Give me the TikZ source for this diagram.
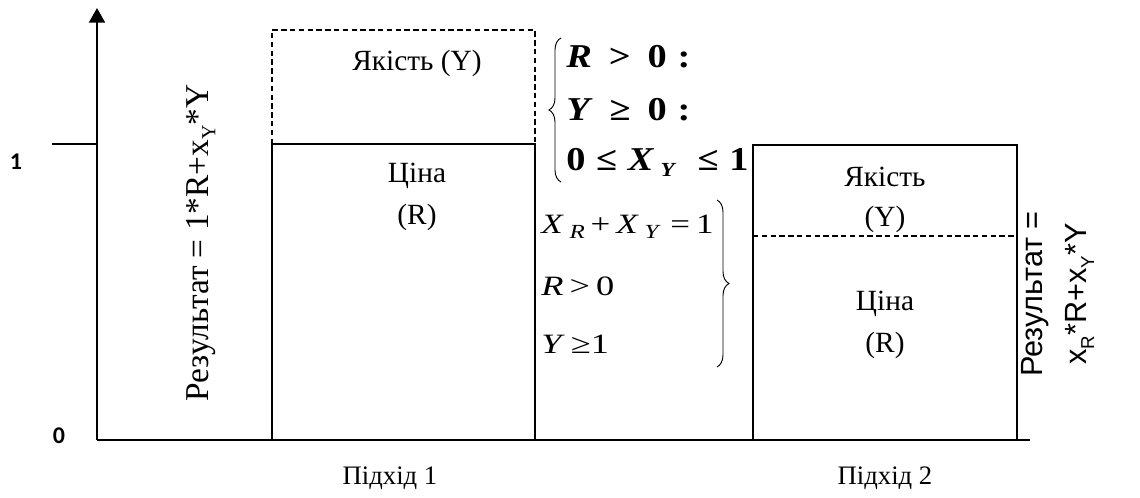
\documentclass[tikz,border=0pt]{standalone}
\usepackage{fontspec}
\setmainfont{Liberation Serif}
\setsansfont{Liberation Sans}
\newfontfamily\digitfont{Carlito}
\usetikzlibrary{arrows.meta,decorations.pathreplacing}

% lowered index of a given size
\newcommand{\lowidx}[2][13]{\raisebox{-0.45ex}{\fontsize{#1}{#1}\selectfont #2}}
% text stretched sideways
\newcommand{\widetext}[2]{\scalebox{#1}[1]{#2}}

\begin{document}
\begin{tikzpicture}[x=0.75pt, y=-0.75pt,
  boxline/.style={line width=1pt},
  dashline/.style={line width=1pt, dash pattern=on 4pt off 2.6pt},
  boxtext/.style={font=\fontsize{22}{26}\selectfont},
  condbold/.style={anchor=base west, inner sep=0pt, font=\fontsize{25}{28}\selectfont\bfseries},
  condtext/.style={anchor=base west, inner sep=0pt, font=\fontsize{21}{24}\selectfont}]
  \useasboundingbox (0,0) rectangle (1140,497);

  % axes
  \coordinate (O)    at (97,440);
  \coordinate (ytop) at (97,8);
  \coordinate (xend) at (1030,440);
  \coordinate (y1)   at (97,144);
  \coordinate (tick) at (52,144);
  \draw[line width=1.6pt, -{Triangle[length=11pt,width=12pt]}] (O) -- (ytop);
  \draw[line width=1.4pt] (O) -- (xend);
  \draw[line width=1pt] (tick) -- (y1);
  \node[font=\digitfont\bfseries\fontsize{18}{20}\selectfont] (one)  at (16,162) {1};
  \node[font=\digitfont\bfseries\fontsize{18}{20}\selectfont] (zero) at (59,436) {0};

  % approach 1
  \draw[boxline] (272,440) rectangle (535,144);
  \draw[dashline] (272,144) -- (272,30) -- (535,30) -- (535,144);
  \node[boxtext] (qual1)  at (417,63)  {Якість (Y)};
  \node[boxtext] (price1) at (417,176) {Ціна};
  \node[boxtext] (r1)     at (417,217) {(R)};
  \node[rotate=90, font=\fontsize{25}{28}\selectfont] (res1) at (201,243)
    {Результат = 1*R+x\lowidx[15]{Y}*Y};
  \node[boxtext, font=\fontsize{20}{24}\selectfont] (app1) at (390,478) {Підхід 1};

  % conditions, first group
  \coordinate (b1bot) at (561,182);
  \coordinate (b1top) at (561,38);
  \draw[line width=0.7pt, decorate, decoration={brace, amplitude=9pt}] (b1bot) -- (b1top);
  \node[condbold] (c1) at (566,67)  {\widetext{1.15}{\textit{R}\;\,>\;\,0\;:}};
  \node[condbold] (c2) at (566,120) {\widetext{1.15}{\textit{Y}\;\,≥\;\,0\;:}};
  \node[condbold] (c3) at (566,170) {\widetext{1.15}{0\;≤\;\textit{X}\,\lowidx[15]{\textit{Y}}\;\;≤\;1}};

  % conditions, second group
  \coordinate (b2top) at (717,200);
  \coordinate (b2bot) at (717,367);
  \draw[line width=0.7pt, decorate, decoration={brace, amplitude=9pt}] (b2top) -- (b2bot);
  \node[condtext] (d1) at (541,233) {\widetext{1.25}{\textit{X}\,\lowidx[15]{\textit{R}}\,+\,\textit{X}\,\lowidx[15]{\textit{Y}}\;=\,1}};
  \node[condtext] (d2) at (541,295) {\widetext{1.3}{\textit{R}\,>\,0}};
  \node[condtext] (d3) at (541,353) {\widetext{1.3}{\textit{Y}\,≥1}};

  % approach 2
  \draw[boxline] (753,440) rectangle (1017,145);
  \draw[dashline] (753,236) -- (1017,236);
  \node[boxtext] (qual2)  at (885,177) {Якість};
  \node[boxtext] (y2)     at (885,219) {(Y)};
  \node[boxtext] (price2) at (885,304) {Ціна};
  \node[boxtext] (r2)     at (885,345) {(R)};
  \node[rotate=90, align=center, font=\sffamily\fontsize{23}{33}\selectfont] (res2) at (1058,294)
    {Результат =\\ x\lowidx[14]{R}*R+x\lowidx[14]{Y}*Y};
  \node[boxtext, font=\fontsize{20}{24}\selectfont] (app2) at (885,478) {Підхід 2};
\end{tikzpicture}
\end{document}
